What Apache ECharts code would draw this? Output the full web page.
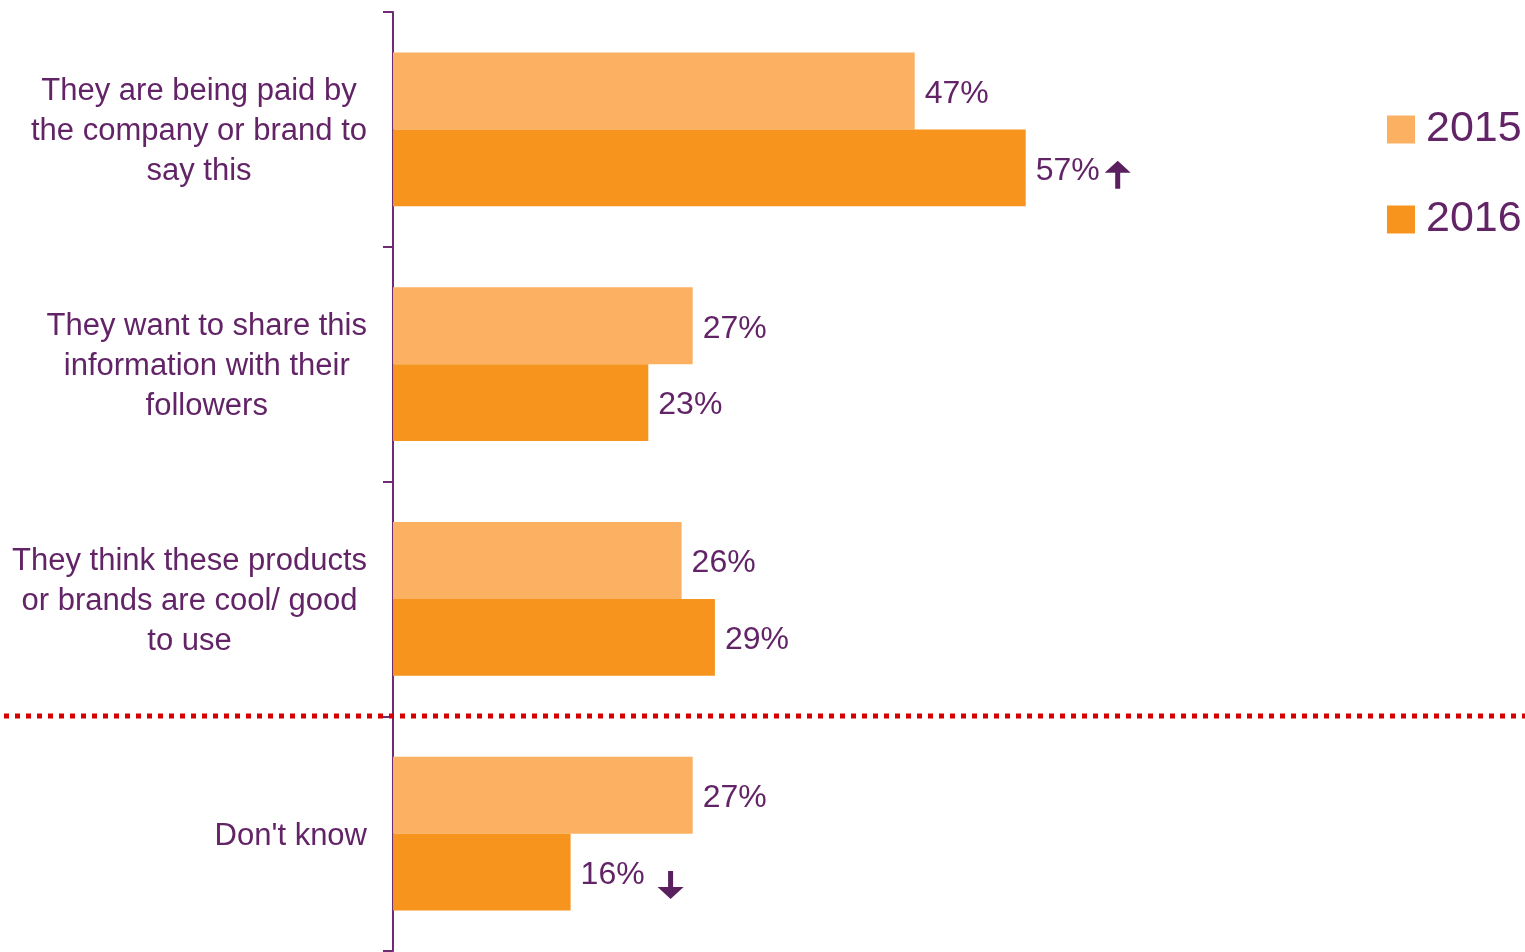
<!DOCTYPE html>
<html>
<head>
<meta charset="utf-8">
<script src="https://cdn.jsdelivr.net/npm/echarts@6/dist/echarts.min.js"></script>
<style>
  html, body { margin: 0; padding: 0; background: #fff; }
  #chart { width: 1525px; height: 952px; }
</style>
</head>
<body>
<div id="chart"></div>
<script>
// 数据
var categories = [
  'They are being paid by\nthe company or brand to\nsay this',
  'They want to share this\ninformation with their\nfollowers',
  'They think these products\nor brands are cool/ good\nto use',
  "Don't know"
]
var values2015 = [47, 27, 26, 27]
var values2016 = [57, 23, 29, 16]
var seriesNames = ['2015', '2016']

var purple = '#622466'
var font = 'Liberation Sans, Arial, sans-serif'
var upArrow = 'path://M13,0 L26,12 L15.5,12 L15.5,28 L10.5,28 L10.5,12 L0,12 Z'
var downArrow = 'path://M10.5,0 L15.5,0 L15.5,16 L26,16 L13,28 L0,16 L10.5,16 Z'

var chart = echarts.init(document.getElementById('chart'))

var labelStyle = {
  show: true,
  position: 'right',
  distance: 10,
  offset: [0, 3],
  color: purple,
  fontSize: 32,
  fontFamily: font,
  formatter: '{c}%'
}

chart.setOption({
  animation: false,
  grid: { left: 393, top: 12, width: 1110, height: 939 },
  legend: {
    orient: 'vertical',
    left: 1382,
    top: 103,
    icon: 'rect',
    itemWidth: 28,
    itemHeight: 28,
    itemGap: 47,
    textStyle: {
      color: purple,
      fontSize: 43,
      lineHeight: 43,
      fontFamily: font,
      padding: [0, 0, 0, 6]
    },
    data: seriesNames
  },
  xAxis: {
    type: 'value',
    min: 0,
    max: 100,
    show: false
  },
  yAxis: {
    type: 'category',
    inverse: true,
    data: categories,
    axisLine: { lineStyle: { color: '#6F2C74', width: 2 } },
    axisTick: { show: true, length: 10, lineStyle: { color: '#6F2C74', width: 2 } },
    axisLabel: {
      margin: 26,
      align: 'right',
      padding: [5, 0, 0, 0],
      formatter: function (v) {
        return v.split('\n').map(function (l) { return '{c|' + l + '}' }).join('\n')
      },
      rich: {
        c: {
          align: 'center',
          color: purple,
          fontSize: 31,
          lineHeight: 40,
          fontFamily: font
        }
      }
    }
  },
  series: [
    {
      name: seriesNames[0],
      type: 'bar',
      data: values2015,
      barGap: 0,
      barCategoryGap: '34.5%',
      itemStyle: { color: '#FBB062' },
      label: labelStyle
    },
    {
      name: seriesNames[1],
      type: 'bar',
      data: values2016,
      itemStyle: { color: '#F7941E' },
      label: labelStyle,
      markPoint: {
        silent: true,
        label: { show: false },
        itemStyle: { color: '#5A1F5E' },
        data: [
          { coord: [values2016[0], categories[0]], symbol: upArrow, symbolSize: [26, 28], symbolOffset: [92, 7] },
          { coord: [values2016[3], categories[3]], symbol: downArrow, symbolSize: [26, 28], symbolOffset: [100, 13] }
        ]
      }
    }
  ],
  graphic: [
    {
      type: 'line',
      silent: true,
      shape: { x1: 4, y1: 716, x2: 1525, y2: 716 },
      style: { stroke: '#D40000', lineWidth: 5, lineDash: [5, 6] },
      z: 10
    }
  ]
})
</script>
</body>
</html>
